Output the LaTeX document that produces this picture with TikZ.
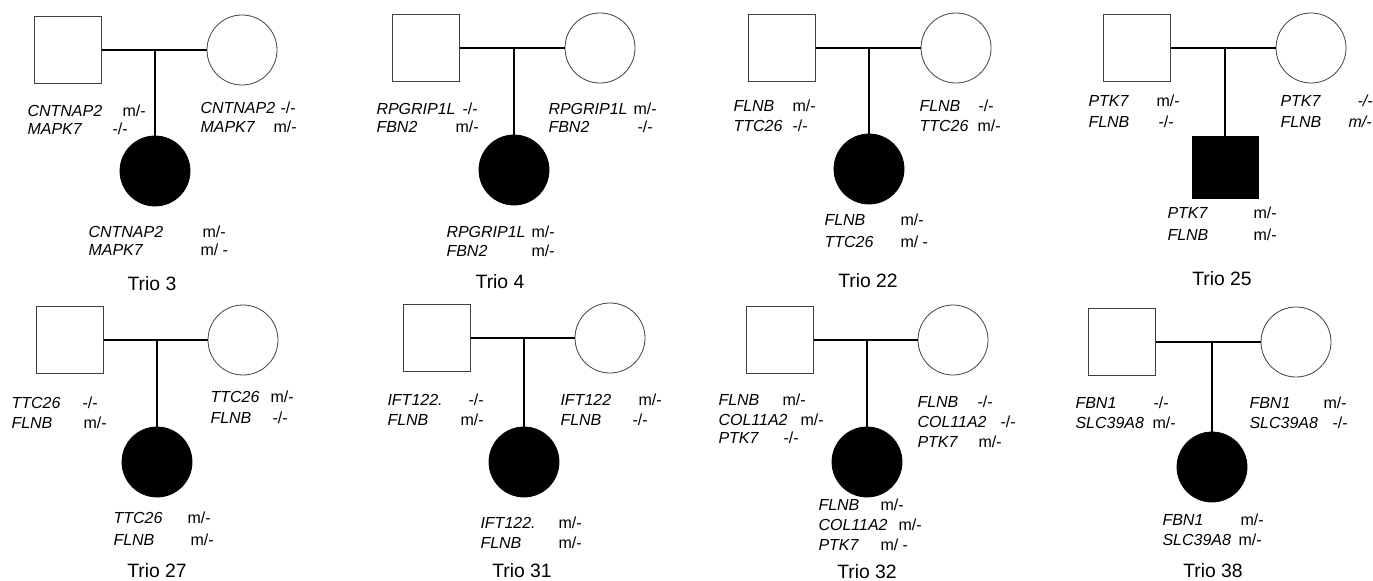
\documentclass[tikz,border=0pt]{standalone}
\usepackage{fontspec}
\setmainfont{Liberation Sans}
\tikzset{every picture/.style={line width=0.75pt}}
\tikzset{
  male/.style={draw=black!75,line width=0.6pt,rectangle,minimum size=50pt,inner sep=0pt},
  female/.style={draw=black!75,line width=0.6pt,circle,minimum size=52.5pt,inner sep=0pt},
  affected/.style={fill=black,draw=black},
  gene/.style={anchor=base west,inner sep=0pt,font=\fontsize{12pt}{14pt}\selectfont\itshape},
  geno/.style={anchor=base west,inner sep=0pt,font=\fontsize{12pt}{14pt}\selectfont},
  trio/.style={anchor=base,inner sep=0pt,font=\fontsize{14.5pt}{17pt}\selectfont},
  bond/.style={draw=black,line width=0.8pt}
}

\begin{document}
\begin{tikzpicture}[x=0.75pt,y=0.75pt,yscale=-1,xscale=1]
\useasboundingbox (0,0) rectangle (1373,581);

%Trio 3
\node (f3) [male] at (68,50) {};
\node (m3) [female] at (242,50) {};
\node (c3) [female,affected] at (155,171) {};
\coordinate (j3) at (155,50);
\draw [bond] (f3) -- (m3);
\draw [bond] (j3) -- (c3);
% Text Node
\node (f3g1) [gene] at (27,117) {CNTNAP2}; \node (f3t1) [geno] at (122,117) {m/-};
\node (f3g2) [gene] at (27,135) {MAPK7};   \node (f3t2) [geno] at (112,135) {-/-};
\node (m3g1) [gene] at (200,114) {CNTNAP2}; \node (m3t1) [geno] at (280,114) {-/-};
\node (m3g2) [gene] at (200,133) {MAPK7};   \node (m3t2) [geno] at (273,133) {m/-};
\node (c3g1) [gene] at (88,237) {CNTNAP2}; \node (c3t1) [geno] at (202,237) {m/-};
\node (c3g2) [gene] at (88,255) {MAPK7};   \node (c3t2) [geno] at (200,255) {m/ -};
\node (t3) [trio] at (152,290) {Trio 3};

%Trio 4
\node (f4) [male] at (426,48) {};
\node (m4) [female] at (600,48) {};
\node (c4) [female,affected] at (514,170) {};
\coordinate (j4) at (514,48);
\draw [bond] (f4) -- (m4);
\draw [bond] (j4) -- (c4);
% Text Node
\node (f4g1) [gene] at (376,115) {RPGRIP1L}; \node (f4t1) [geno] at (462,115) {-/-};
\node (f4g2) [gene] at (376,133) {FBN2};     \node (f4t2) [geno] at (455,133) {m/-};
\node (m4g1) [gene] at (548,115) {RPGRIP1L}; \node (m4t1) [geno] at (633,115) {m/-};
\node (m4g2) [gene] at (548,133) {FBN2};     \node (m4t2) [geno] at (637,133) {-/-};
\node (c4g1) [gene] at (446,237) {RPGRIP1L}; \node (c4t1) [geno] at (531,237) {m/-};
\node (c4g2) [gene] at (446,256) {FBN2};     \node (c4t2) [geno] at (531,256) {m/-};
\node (t4) [trio] at (500,288) {Trio 4};

%Trio 22
\node (f22) [male] at (782,48) {};
\node (m22) [female] at (956,48) {};
\node (c22) [female,affected] at (869,169) {};
\coordinate (j22) at (869,48);
\draw [bond] (f22) -- (m22);
\draw [bond] (j22) -- (c22);
% Text Node
\node (f22g1) [gene] at (733,112) {FLNB};  \node (f22t1) [geno] at (792,112) {m/-};
\node (f22g2) [gene] at (733,132) {TTC26}; \node (f22t2) [geno] at (792,132) {-/-};
\node (m22g1) [gene] at (919,112) {FLNB};  \node (m22t1) [geno] at (978,112) {-/-};
\node (m22g2) [gene] at (919,132) {TTC26}; \node (m22t2) [geno] at (977,132) {m/-};
\node (c22g1) [gene] at (824,225) {FLNB};  \node (c22t1) [geno] at (900,225) {m/-};
\node (c22g2) [gene] at (824,247) {TTC26}; \node (c22t2) [geno] at (900,247) {m/ -};
\node (t22) [trio] at (868,287) {Trio 22};

%Trio 25
\node (f25) [male] at (1137,48) {};
\node (m25) [female] at (1311,48) {};
\node (c25) [male,affected,minimum width=49.5pt,minimum height=46.5pt] at (1225,167) {};
\coordinate (j25) at (1225,48);
\draw [bond] (f25) -- (m25);
\draw [bond] (j25) -- (c25);
% Text Node
\node (f25g1) [gene] at (1088,107) {PTK7}; \node (f25t1) [geno] at (1156,107) {m/-};
\node (f25g2) [gene] at (1088,128) {FLNB}; \node (f25t2) [geno] at (1158,128) {-/-};
\node (m25g1) [gene] at (1280,107) {PTK7}; \node (m25t1) [geno,font=\fontsize{12pt}{14pt}\selectfont\itshape] at (1357,107) {-/-};
\node (m25g2) [gene] at (1280,128) {FLNB}; \node (m25t2) [geno,font=\fontsize{12pt}{14pt}\selectfont\itshape] at (1348,128) {m/-};
\node (c25g1) [gene] at (1167,218) {PTK7}; \node (c25t1) [geno] at (1253,218) {m/-};
\node (c25g2) [gene] at (1167,240) {FLNB}; \node (c25t2) [geno] at (1253,240) {m/-};
\node (t25) [trio] at (1222,285) {Trio 25};

%Trio 27
\node (f27) [male] at (70,340) {};
\node (m27) [female] at (243,340) {};
\node (c27) [female,affected] at (157,462) {};
\coordinate (j27) at (157,340);
\draw [bond] (f27) -- (m27);
\draw [bond] (j27) -- (c27);
% Text Node
\node (f27g1) [gene] at (11,408) {TTC26}; \node (f27t1) [geno] at (82,408) {-/-};
\node (f27g2) [gene] at (11,428) {FLNB};  \node (f27t2) [geno] at (83,428) {m/-};
\node (m27g1) [gene] at (210,402) {TTC26}; \node (m27t1) [geno] at (270,402) {m/-};
\node (m27g2) [gene] at (210,423) {FLNB};  \node (m27t2) [geno] at (272,423) {-/-};
\node (c27g1) [gene] at (113,523) {TTC26}; \node (c27t1) [geno] at (187,523) {m/-};
\node (c27g2) [gene] at (113,545) {FLNB};  \node (c27t2) [geno] at (190,545) {m/-};
\node (t27) [trio] at (157,577) {Trio 27};

%Trio 31
\node (f31) [male] at (437,338) {};
\node (m31) [female] at (610,338) {};
\node (c31) [female,affected] at (524,462) {};
\coordinate (j31) at (524,338);
\draw [bond] (f31) -- (m31);
\draw [bond] (j31) -- (c31);
% Text Node
\node (f31g1) [gene] at (387,405) {IFT122.}; \node (f31t1) [geno] at (468,405) {-/-};
\node (f31g2) [gene] at (387,425) {FLNB};    \node (f31t2) [geno] at (460,425) {m/-};
\node (m31g1) [gene] at (560,405) {IFT122};  \node (m31t1) [geno] at (638,405) {m/-};
\node (m31g2) [gene] at (560,425) {FLNB};    \node (m31t2) [geno] at (632,425) {-/-};
\node (c31g1) [gene] at (480,528) {IFT122.}; \node (c31t1) [geno] at (558,528) {m/-};
\node (c31g2) [gene] at (480,548) {FLNB};    \node (c31t2) [geno] at (558,548) {m/-};
\node (t31) [trio] at (522,577) {Trio 31};

%Trio 32
\node (f32) [male] at (780,340) {};
\node (m32) [female] at (953,340) {};
\node (c32) [female,affected] at (867,462) {};
\coordinate (j32) at (867,340);
\draw [bond] (f32) -- (m32);
\draw [bond] (j32) -- (c32);
% Text Node
\node (f32g1) [gene] at (718,405) {FLNB};    \node (f32t1) [geno] at (782,405) {m/-};
\node (f32g2) [gene] at (718,425) {COL11A2}; \node (f32t2) [geno] at (800,425) {m/-};
\node (f32g3) [gene] at (718,443) {PTK7};    \node (f32t3) [geno] at (783,443) {-/-};
\node (m32g1) [gene] at (917,407) {FLNB};    \node (m32t1) [geno] at (977,407) {-/-};
\node (m32g2) [gene] at (917,427) {COL11A2}; \node (m32t2) [geno] at (1000,427) {-/-};
\node (m32g3) [gene] at (917,447) {PTK7};    \node (m32t3) [geno] at (978,447) {m/-};
\node (c32g1) [gene] at (818,510) {FLNB};    \node (c32t1) [geno] at (880,510) {m/-};
\node (c32g2) [gene] at (818,530) {COL11A2}; \node (c32t2) [geno] at (898,530) {m/-};
\node (c32g3) [gene] at (818,550) {PTK7};    \node (c32t3) [geno] at (880,550) {m/ -};
\node (t32) [trio] at (867,578) {Trio 32};

%Trio 38
\node (f38) [male] at (1122,342) {};
\node (m38) [female] at (1296,342) {};
\node (c38) [female,affected] at (1212,467) {};
\coordinate (j38) at (1212,342);
\draw [bond] (f38) -- (m38);
\draw [bond] (j38) -- (c38);
% Text Node
\node (f38g1) [gene] at (1075,408) {FBN1};    \node (f38t1) [geno] at (1153,408) {-/-};
\node (f38g2) [gene] at (1075,428) {SLC39A8}; \node (f38t2) [geno] at (1152,428) {m/-};
\node (m38g1) [gene] at (1249,408) {FBN1};    \node (m38t1) [geno] at (1323,408) {m/-};
\node (m38g2) [gene] at (1249,428) {SLC39A8}; \node (m38t2) [geno] at (1332,428) {-/-};
\node (c38g1) [gene] at (1162,525) {FBN1};    \node (c38t1) [geno] at (1240,525) {m/-};
\node (c38g2) [gene] at (1162,545) {SLC39A8}; \node (c38t2) [geno] at (1238,545) {m/-};
\node (t38) [trio] at (1213,577) {Trio 38};

\end{tikzpicture}
\end{document}
